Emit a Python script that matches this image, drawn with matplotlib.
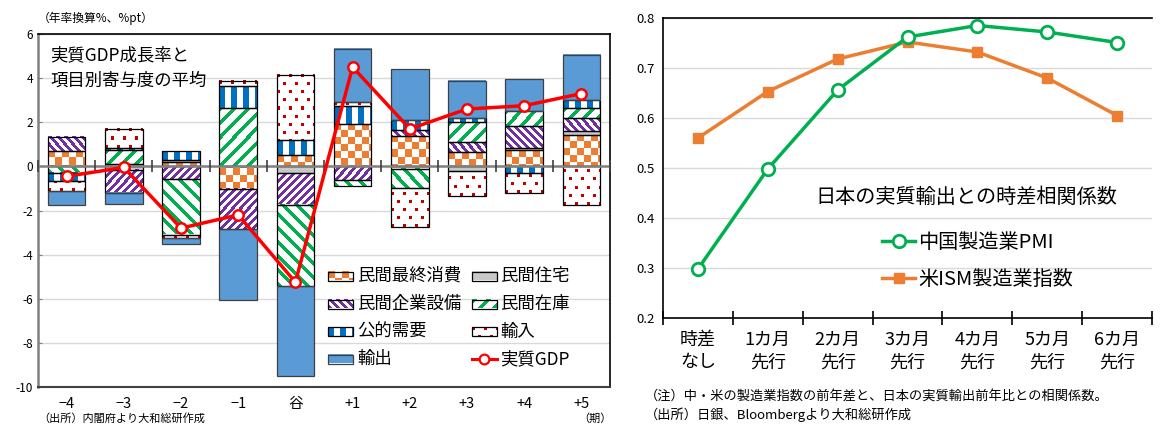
import numpy as np
import matplotlib
matplotlib.use('Agg')
import matplotlib.pyplot as plt
from matplotlib.colors import to_rgb
from matplotlib.patches import Rectangle

plt.rcParams['font.family'] = ['Noto Sans CJK JP', 'DejaVu Sans']
plt.rcParams['axes.unicode_minus'] = False

# 左: 景気の谷前後の実質GDP成長率と寄与度
periods = ['−4', '−3', '−2', '−1', '谷', '+1', '+2', '+3', '+4', '+5']
consumption = [0.68, 0.10, 0.20, -1.03, 0.50, 1.93, 1.36, 0.63, 0.72, 1.44]
housing = [0.00, -0.15, 0.10, 0.00, -0.30, 0.00, -0.10, -0.23, 0.12, 0.16]
capex = [0.65, -1.05, -0.57, -1.82, -1.44, -0.60, 0.30, 0.46, 0.98, 0.59]
inventory = [-0.30, 0.62, -2.52, 2.65, -3.70, -0.27, -0.88, 0.90, 0.68, 0.45]
public = [-0.38, 0.10, 0.38, 1.00, 0.68, 0.79, 0.45, 0.20, -0.30, 0.38]
imports = [-0.45, 0.88, -0.16, 0.23, 2.96, 0.20, -1.75, -1.10, -0.90, -1.74]
exports = [-0.61, -0.50, -0.25, -3.20, -4.04, 2.41, 2.30, 1.70, 1.45, 2.04]
real_gdp = [-0.45, -0.05, -2.80, -2.20, -5.25, 4.50, 1.70, 2.60, 2.75, 3.30]

# 右: 日本の実質輸出との時差相関係数
lags = ['時差\nなし', '1カ月\n先行', '2カ月\n先行', '3カ月\n先行', '4カ月\n先行', '5カ月\n先行', '6カ月\n先行']
china_pmi = [0.298, 0.498, 0.656, 0.762, 0.785, 0.772, 0.751]
us_ism = [0.560, 0.653, 0.718, 0.752, 0.732, 0.680, 0.605]

series = [
    ('民間最終消費', consumption, 'check'),
    ('民間住宅', housing, 'gray'),
    ('民間企業設備', capex, 'purple'),
    ('民間在庫', inventory, 'green'),
    ('公的需要', public, 'stripe'),
    ('輸入', imports, 'dots'),
    ('輸出', exports, 'solid'),
]


def pattern(kind, h, w):
    i, j = np.mgrid[0:h, 0:w]
    img = np.ones((h, w, 3))
    if kind == 'check':
        mask, col = (i // 7 + j // 7) % 2 == 0, '#ED7D31'
    elif kind == 'purple':
        mask, col = (j - i) % 8 < 4, '#7030A0'
    elif kind == 'green':
        mask, col = (i + j) % 14 < 5, '#00B050'
    elif kind == 'stripe':
        mask, col = j % 12 < 6, '#0070C0'
    elif kind == 'dots':
        mask, col = (i % 8 < 3) & ((j + 6 * ((i // 8) % 2)) % 12 < 3), '#C00000'
    elif kind == 'gray':
        mask, col = np.ones((h, w), bool), '#C8C8C8'
    else:
        mask, col = np.ones((h, w), bool), '#5B9BD5'
    img[mask] = to_rgb(col)
    return img


def px_scale(ax):
    fig = ax.figure
    bb = ax.get_position()
    x0, x1 = ax.get_xlim()
    y0, y1 = ax.get_ylim()
    sx = bb.width * fig.get_figwidth() * fig.dpi / abs(x1 - x0)
    sy = bb.height * fig.get_figheight() * fig.dpi / abs(y1 - y0)
    return sx, sy


def draw_block(ax, x0, x1, y0, y1, kind, z=2):
    sx, sy = px_scale(ax)
    w = max(1, int(round(abs(x1 - x0) * sx)))
    h = max(1, int(round(abs(y1 - y0) * sy)))
    ax.imshow(pattern(kind, h, w), extent=(x0, x1, y0, y1), origin='upper',
              interpolation='nearest', aspect='auto', zorder=z)
    ec = '#404040' if kind == 'solid' else 'black'
    ax.add_patch(Rectangle((min(x0, x1), min(y0, y1)), abs(x1 - x0), abs(y1 - y0),
                           fill=False, ec=ec, lw=0.9, zorder=z + 0.5))


fig = plt.figure(figsize=(11.62, 4.25), dpi=100)

# ---- left chart ----
ax = fig.add_axes([38 / 1162, 38 / 425, 572 / 1162, 353 / 425])
ax.set_xlim(-0.5, len(periods) - 0.5)
ax.set_ylim(-10, 6)
ax.set_axisbelow(True)
ax.yaxis.grid(True, color='#D9D9D9', lw=1)

width = 0.66
pos = np.zeros(len(periods))
neg = np.zeros(len(periods))
for name, vals, kind in series:
    for k, v in enumerate(vals):
        if v == 0:
            continue
        if v > 0:
            base = pos[k]
            pos[k] += v
        else:
            base = neg[k]
            neg[k] += v
        draw_block(ax, k - width / 2, k + width / 2, base, base + v, kind)

ax.axhline(0, color='#808080', lw=1.8, zorder=4)

x = np.arange(len(periods))
ax.plot(x, real_gdp, color='#FF0000', lw=2.5, marker='o', ms=7.5, mfc='white',
        mec='#FF0000', mew=1.8, zorder=6)
ax.set_xlim(-0.5, len(periods) - 0.5)
ax.set_ylim(-10, 6)

ax.set_yticks(np.arange(-10, 7, 2))
ax.tick_params(axis='y', labelsize=8.5, length=3, direction='in', color='#808080')
ax.set_xticks(x, periods)
ax.tick_params(axis='x', labelsize=10.5, length=0, pad=7)
for s in ['top', 'right']:
    ax.spines[s].set_color('black')
    ax.spines[s].set_linewidth(1.2)
ax.spines['left'].set_color('#808080')
ax.spines['left'].set_linewidth(1.8)
ax.spines['bottom'].set_color('#404040')
ax.spines['bottom'].set_linewidth(1.5)

# category dividers on the zero line
zero = ax.secondary_xaxis(10 / 16)
zero.set_zorder(5)
zero.set_xticks(np.arange(-0.5, len(periods) - 0.4, 1.0))
zero.tick_params(length=8, direction='inout', width=1.2, color='#404040',
                 labelbottom=False, labeltop=False)
for s in zero.spines.values():
    s.set_visible(False)

ax.text(0.021, 0.965, '実質GDP成長率と\n項目別寄与度の平均', transform=ax.transAxes,
        fontsize=12.5, va='top', ha='left', linespacing=1.5)

fig.text(38 / 1162, 1 - 18 / 425, '（年率換算%、%pt）', fontsize=8.5, va='center', ha='left')
fig.text(38 / 1162, 1 - 413 / 425, '（出所）内閣府より大和総研作成', fontsize=8, va='top', ha='left')
fig.text(595 / 1162, 1 - 419 / 425, '（期）', fontsize=8, va='center', ha='center')

# legend drawn on an overlay in figure pixels
lax = fig.add_axes([0, 0, 1, 1], zorder=10)
lax.set_xlim(0, 1162)
lax.set_ylim(425, 0)
lax.axis('off')
rows = [276, 304, 331.5, 359]
cols = [328, 471.5]
items = [(n, k) for n, _, k in series] + [('実質GDP', 'line')]
for idx, (name, kind) in enumerate(items):
    cx, cy = cols[idx % 2], rows[idx // 2]
    if kind == 'line':
        lax.plot([cx, cx + 25], [cy, cy], color='#FF0000', lw=2.2)
        lax.plot([cx + 12.5], [cy], marker='o', ms=7, mfc='white', mec='#FF0000', mew=1.6)
    else:
        draw_block(lax, cx, cx + 25, cy + 4.5, cy - 4.5, kind)
    lax.text(cx + 29, cy, name, fontsize=12.5, va='center', ha='left')
lax.set_xlim(0, 1162)
lax.set_ylim(425, 0)

# ---- right chart ----
ax2 = fig.add_axes([663 / 1162, 107 / 425, 489 / 1162, 300 / 425])
xr = np.arange(len(lags))
ax2.plot(xr, us_ism, color='#ED7D31', lw=2.5, marker='s', ms=7, zorder=3,
         label='米ISM製造業指数')
ax2.plot(xr, china_pmi, color='#00B050', lw=2.5, marker='o', ms=9, mfc='white',
         mec='#00B050', mew=2, zorder=4, label='中国製造業PMI')
ax2.set_xlim(-0.5, len(lags) - 0.5)
ax2.set_ylim(0.2, 0.8)
ax2.set_yticks(np.arange(0.2, 0.81, 0.1))
ax2.set_yticklabels([f'{v:.1f}' for v in np.arange(0.2, 0.81, 0.1)])
ax2.yaxis.grid(True, color='#D9D9D9', lw=1)
ax2.set_axisbelow(True)
ax2.tick_params(axis='y', labelsize=9.5, length=0, pad=6)
ax2.set_xticks(xr, lags)
ax2.set_xticks(np.arange(-0.5, len(lags), 1.0), minor=True)
ax2.tick_params(axis='x', which='major', length=0, labelsize=13, pad=9)
ax2.tick_params(axis='x', which='minor', length=10, direction='inout', width=1.2)
for t in ax2.get_xticklabels():
    t.set_linespacing(1.35)
for s in ['top', 'left', 'bottom']:
    ax2.spines[s].set_color('black')
    ax2.spines[s].set_linewidth(1.2)
ax2.spines['right'].set_visible(False)

ax2.text(0.311, 0.403, '日本の実質輸出との時差相関係数', transform=ax2.transAxes,
         fontsize=14.5, va='center', ha='left')
h, l = ax2.get_legend_handles_labels()
ax2.legend(h[::-1], l[::-1], loc='upper left', bbox_to_anchor=(0.448, 0.285),
           frameon=False, fontsize=14.5, handlelength=1.65, handletextpad=0.15,
           labelspacing=0.75, borderpad=0, borderaxespad=0)

fig.text(645 / 1162, 1 - 396 / 425, '（注）中・米の製造業指数の前年差と、日本の実質輸出前年比との相関係数。',
         fontsize=9.5, va='center', ha='left')
fig.text(645 / 1162, 1 - 415 / 425, '（出所）日銀、Bloombergより大和総研作成',
         fontsize=9.5, va='center', ha='left')

fig.savefig('out.png', dpi=100)
